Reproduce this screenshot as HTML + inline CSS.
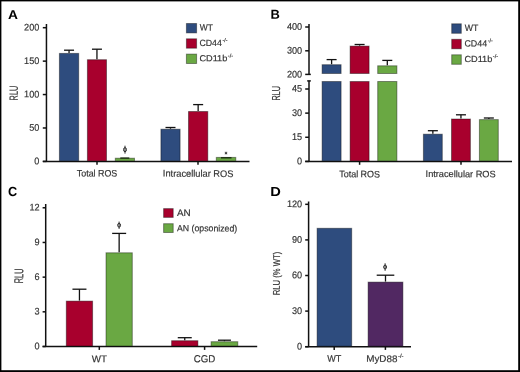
<!DOCTYPE html>
<html><head><meta charset="utf-8"><style>
html,body{margin:0;padding:0;background:#fff;}
svg{display:block;font-family:"Liberation Sans", sans-serif;filter:blur(0.35px);}
text{text-rendering:geometricPrecision;}
</style></head><body>
<svg width="520" height="372" viewBox="0 0 520 372">
<rect x="0" y="0" width="520" height="372" fill="#000"/>
<rect x="1.4" y="1.4" width="516.8" height="368.8" fill="#fff"/>
<text transform="translate(8.06,19) rotate(0.3) scale(1.077,1)" font-size="12.75" font-weight="bold" fill="#000" stroke="#000" stroke-width="0" stroke-linejoin="round">A</text>
<line x1="46.45" y1="24" x2="46.45" y2="161.4" stroke="#111" stroke-width="1.5"/>
<line x1="42.8" y1="161.4" x2="46.45" y2="161.4" stroke="#111" stroke-width="1.5"/>
<text transform="translate(34.22,164.2) rotate(0.3) scale(0.950,1)" font-size="9.57" font-weight="normal" fill="#333" stroke="#333" stroke-width="0.18" stroke-linejoin="round">0</text>
<line x1="42.8" y1="127.98" x2="46.45" y2="127.98" stroke="#111" stroke-width="1.5"/>
<text transform="translate(29.17,130.78) rotate(0.3) scale(0.950,1)" font-size="9.57" font-weight="normal" fill="#333" stroke="#333" stroke-width="0.18" stroke-linejoin="round">50</text>
<line x1="42.8" y1="94.55" x2="46.45" y2="94.55" stroke="#111" stroke-width="1.5"/>
<text transform="translate(24.12,97.35) rotate(0.3) scale(0.950,1)" font-size="9.57" font-weight="normal" fill="#333" stroke="#333" stroke-width="0.18" stroke-linejoin="round">100</text>
<line x1="42.8" y1="61.13" x2="46.45" y2="61.13" stroke="#111" stroke-width="1.5"/>
<text transform="translate(24.12,63.93) rotate(0.3) scale(0.950,1)" font-size="9.57" font-weight="normal" fill="#333" stroke="#333" stroke-width="0.18" stroke-linejoin="round">150</text>
<line x1="42.8" y1="27.7" x2="46.45" y2="27.7" stroke="#111" stroke-width="1.5"/>
<text transform="translate(24.12,30.5) rotate(0.3) scale(0.950,1)" font-size="9.57" font-weight="normal" fill="#333" stroke="#333" stroke-width="0.18" stroke-linejoin="round">200</text>
<line x1="42.8" y1="161.4" x2="249.5" y2="161.4" stroke="#111" stroke-width="1.5"/>
<line x1="97" y1="161.4" x2="97" y2="164.8" stroke="#111" stroke-width="1.5"/>
<line x1="198" y1="161.4" x2="198" y2="164.8" stroke="#111" stroke-width="1.5"/>
<rect x="59.4" y="53.4" width="19.3" height="107.5" fill="#2e4c7e" stroke="rgba(0,0,0,0.4)" stroke-width="1.0"/>
<line x1="69.05" y1="52.9" x2="69.05" y2="50.2" stroke="#111" stroke-width="1.3"/>
<line x1="64.05" y1="50.2" x2="74.05" y2="50.2" stroke="#111" stroke-width="1.3"/>
<rect x="87.4" y="59.7" width="19.1" height="101.2" fill="#a8002d" stroke="rgba(0,0,0,0.4)" stroke-width="1.0"/>
<line x1="96.95" y1="59.2" x2="96.95" y2="49.2" stroke="#111" stroke-width="1.3"/>
<line x1="91.95" y1="49.2" x2="101.95" y2="49.2" stroke="#111" stroke-width="1.3"/>
<rect x="115.3" y="158.2" width="19.2" height="2.7" fill="#6aa843" stroke="rgba(0,0,0,0.4)" stroke-width="1.0"/>
<line x1="120.3" y1="158.1" x2="129.3" y2="158.1" stroke="#1a2a10" stroke-width="1.4"/>
<rect x="160.9" y="129.2" width="19.2" height="31.7" fill="#2e4c7e" stroke="rgba(0,0,0,0.4)" stroke-width="1.0"/>
<line x1="170.5" y1="128.7" x2="170.5" y2="127.5" stroke="#111" stroke-width="1.3"/>
<line x1="165.5" y1="127.5" x2="175.5" y2="127.5" stroke="#111" stroke-width="1.3"/>
<rect x="188.5" y="111.5" width="19.3" height="49.4" fill="#a8002d" stroke="rgba(0,0,0,0.4)" stroke-width="1.0"/>
<line x1="198.15" y1="111" x2="198.15" y2="104.6" stroke="#111" stroke-width="1.3"/>
<line x1="193.15" y1="104.6" x2="203.15" y2="104.6" stroke="#111" stroke-width="1.3"/>
<rect x="216.3" y="157.4" width="19.5" height="3.5" fill="#6aa843" stroke="rgba(0,0,0,0.4)" stroke-width="1.0"/>
<line x1="221" y1="157.8" x2="231.5" y2="157.8" stroke="#1a2a10" stroke-width="1.4"/>
<line x1="125" y1="145.7" x2="125" y2="153.6" stroke="#2a2a2a" stroke-width="1.0"/>
<ellipse cx="125" cy="149.65" rx="1.45" ry="2.05" fill="none" stroke="#2a2a2a" stroke-width="1.0"/>
<line x1="226" y1="151.7" x2="226" y2="154.5" stroke="#333" stroke-width="0.85"/>
<line x1="224.79" y1="152.4" x2="227.21" y2="153.8" stroke="#333" stroke-width="0.85"/>
<line x1="224.79" y1="153.8" x2="227.21" y2="152.4" stroke="#333" stroke-width="0.85"/>
<rect x="186.4" y="23.5" width="10.2" height="9.4" fill="#2e4c7e" stroke="rgba(0,0,0,0.4)" stroke-width="1.0"/>
<text transform="translate(199.86,30.6) rotate(0.3) scale(0.909,1)" font-size="9.28" font-weight="normal" fill="#333" stroke="#333" stroke-width="0.18" stroke-linejoin="round">WT</text>
<rect x="186.4" y="38.8" width="10.2" height="9.4" fill="#a8002d" stroke="rgba(0,0,0,0.4)" stroke-width="1.0"/>
<text transform="translate(199.46,45.9) rotate(0.3) scale(0.959,1)" font-size="9.14" font-weight="normal" fill="#333" stroke="#333" stroke-width="0.18" stroke-linejoin="round">CD44<tspan font-size="5.49" dx="0.6" dy="-4.11">-/-</tspan></text>
<rect x="186.4" y="54.1" width="10.2" height="9.4" fill="#6aa843" stroke="rgba(0,0,0,0.4)" stroke-width="1.0"/>
<text transform="translate(199.44,61.2) rotate(0.3) scale(1.037,1)" font-size="8.83" font-weight="normal" fill="#333" stroke="#333" stroke-width="0.18" stroke-linejoin="round">CD11b<tspan font-size="5.3" dx="0.5" dy="-3.97">-/-</tspan></text>
<text transform="translate(76.82,176.4) rotate(0.3) scale(0.945,1)" font-size="9.38" font-weight="normal" fill="#333" stroke="#333" stroke-width="0.18" stroke-linejoin="round">Total ROS</text>
<text transform="translate(162.87,176.6) rotate(0.3) scale(0.974,1)" font-size="9.52" font-weight="normal" fill="#333" stroke="#333" stroke-width="0.18" stroke-linejoin="round">Intracellular ROS</text>
<text transform="translate(17.8,100.39) rotate(-89.7) scale(0.616,1)" font-size="11.88" font-weight="normal" fill="#333" stroke="#333" stroke-width="0.18" stroke-linejoin="round">RLU</text>
<text transform="translate(270.46,18.8) rotate(0.3) scale(0.993,1)" font-size="13.04" font-weight="bold" fill="#000" stroke="#000" stroke-width="0" stroke-linejoin="round">B</text>
<line x1="309" y1="24" x2="309" y2="74.4" stroke="#111" stroke-width="1.5"/>
<line x1="305.2" y1="74.4" x2="310.8" y2="74.4" stroke="#111" stroke-width="1.5"/>
<text transform="translate(286.92,77.4) rotate(0.3) scale(0.950,1)" font-size="9.57" font-weight="normal" fill="#333" stroke="#333" stroke-width="0.18" stroke-linejoin="round">200</text>
<line x1="305.2" y1="50.8" x2="309" y2="50.8" stroke="#111" stroke-width="1.5"/>
<text transform="translate(286.92,53.6) rotate(0.3) scale(0.950,1)" font-size="9.57" font-weight="normal" fill="#333" stroke="#333" stroke-width="0.18" stroke-linejoin="round">300</text>
<line x1="305.2" y1="27" x2="309" y2="27" stroke="#111" stroke-width="1.5"/>
<text transform="translate(286.92,29.8) rotate(0.3) scale(0.950,1)" font-size="9.57" font-weight="normal" fill="#333" stroke="#333" stroke-width="0.18" stroke-linejoin="round">400</text>
<line x1="309" y1="80.9" x2="309" y2="161.4" stroke="#111" stroke-width="1.5"/>
<line x1="307.2" y1="80.9" x2="310.8" y2="80.9" stroke="#111" stroke-width="1.5"/>
<line x1="305.2" y1="161.4" x2="309" y2="161.4" stroke="#111" stroke-width="1.5"/>
<text transform="translate(297.02,164.2) rotate(0.3) scale(0.950,1)" font-size="9.57" font-weight="normal" fill="#333" stroke="#333" stroke-width="0.18" stroke-linejoin="round">0</text>
<line x1="305.2" y1="137.27" x2="309" y2="137.27" stroke="#111" stroke-width="1.5"/>
<text transform="translate(291.97,140.07) rotate(0.3) scale(0.936,1)" font-size="9.71" font-weight="normal" fill="#333" stroke="#333" stroke-width="0.18" stroke-linejoin="round">15</text>
<line x1="305.2" y1="113.13" x2="309" y2="113.13" stroke="#111" stroke-width="1.5"/>
<text transform="translate(291.97,115.93) rotate(0.3) scale(0.950,1)" font-size="9.57" font-weight="normal" fill="#333" stroke="#333" stroke-width="0.18" stroke-linejoin="round">30</text>
<line x1="305.2" y1="89" x2="309" y2="89" stroke="#111" stroke-width="1.5"/>
<text transform="translate(291.97,91.8) rotate(0.3) scale(0.936,1)" font-size="9.71" font-weight="normal" fill="#333" stroke="#333" stroke-width="0.18" stroke-linejoin="round">45</text>
<line x1="305.2" y1="161.4" x2="512" y2="161.4" stroke="#111" stroke-width="1.5"/>
<line x1="359.6" y1="161.4" x2="359.6" y2="164.8" stroke="#111" stroke-width="1.5"/>
<line x1="461" y1="161.4" x2="461" y2="164.8" stroke="#111" stroke-width="1.5"/>
<rect x="322.1" y="64.7" width="19" height="8.8" fill="#2e4c7e" stroke="rgba(0,0,0,0.4)" stroke-width="1.0"/>
<rect x="322.1" y="81.5" width="19" height="79.4" fill="#2e4c7e" stroke="rgba(0,0,0,0.4)" stroke-width="1.0"/>
<line x1="331.6" y1="64.2" x2="331.6" y2="59.6" stroke="#111" stroke-width="1.3"/>
<line x1="326.6" y1="59.6" x2="336.6" y2="59.6" stroke="#111" stroke-width="1.3"/>
<rect x="350.1" y="46.1" width="19" height="27.4" fill="#a8002d" stroke="rgba(0,0,0,0.4)" stroke-width="1.0"/>
<rect x="350.1" y="81.5" width="19" height="79.4" fill="#a8002d" stroke="rgba(0,0,0,0.4)" stroke-width="1.0"/>
<line x1="359.6" y1="45.6" x2="359.6" y2="44.5" stroke="#111" stroke-width="1.3"/>
<line x1="354.6" y1="44.5" x2="364.6" y2="44.5" stroke="#111" stroke-width="1.3"/>
<rect x="377.7" y="65.8" width="19.2" height="7.7" fill="#6aa843" stroke="rgba(0,0,0,0.4)" stroke-width="1.0"/>
<rect x="377.7" y="81.5" width="19.2" height="79.4" fill="#6aa843" stroke="rgba(0,0,0,0.4)" stroke-width="1.0"/>
<line x1="387.3" y1="65.3" x2="387.3" y2="60.4" stroke="#111" stroke-width="1.3"/>
<line x1="382.3" y1="60.4" x2="392.3" y2="60.4" stroke="#111" stroke-width="1.3"/>
<rect x="423.4" y="134.2" width="18.9" height="26.7" fill="#2e4c7e" stroke="rgba(0,0,0,0.4)" stroke-width="1.0"/>
<line x1="432.85" y1="133.7" x2="432.85" y2="130.7" stroke="#111" stroke-width="1.3"/>
<line x1="427.85" y1="130.7" x2="437.85" y2="130.7" stroke="#111" stroke-width="1.3"/>
<rect x="451.5" y="119" width="18.9" height="41.9" fill="#a8002d" stroke="rgba(0,0,0,0.4)" stroke-width="1.0"/>
<line x1="460.95" y1="118.5" x2="460.95" y2="114.8" stroke="#111" stroke-width="1.3"/>
<line x1="455.95" y1="114.8" x2="465.95" y2="114.8" stroke="#111" stroke-width="1.3"/>
<rect x="479.4" y="119.6" width="18.9" height="41.3" fill="#6aa843" stroke="rgba(0,0,0,0.4)" stroke-width="1.0"/>
<line x1="488.85" y1="119.1" x2="488.85" y2="118" stroke="#111" stroke-width="1.3"/>
<line x1="483.85" y1="118" x2="493.85" y2="118" stroke="#111" stroke-width="1.3"/>
<rect x="451.7" y="23.8" width="9.6" height="9.5" fill="#2e4c7e" stroke="rgba(0,0,0,0.4)" stroke-width="1.0"/>
<text transform="translate(464.86,30.9) rotate(0.3) scale(0.937,1)" font-size="9.28" font-weight="normal" fill="#333" stroke="#333" stroke-width="0.18" stroke-linejoin="round">WT</text>
<rect x="451.7" y="39.3" width="9.6" height="9.5" fill="#a8002d" stroke="rgba(0,0,0,0.4)" stroke-width="1.0"/>
<text transform="translate(464.46,46.4) rotate(0.3) scale(0.968,1)" font-size="9.14" font-weight="normal" fill="#333" stroke="#333" stroke-width="0.18" stroke-linejoin="round">CD44<tspan font-size="5.49" dx="0.6" dy="-4.11">-/-</tspan></text>
<rect x="451.7" y="54.8" width="9.6" height="9.5" fill="#6aa843" stroke="rgba(0,0,0,0.4)" stroke-width="1.0"/>
<text transform="translate(464.44,61.9) rotate(0.3) scale(1.037,1)" font-size="8.83" font-weight="normal" fill="#333" stroke="#333" stroke-width="0.18" stroke-linejoin="round">CD11b<tspan font-size="5.3" dx="0.5" dy="-3.97">-/-</tspan></text>
<text transform="translate(339.22,177.2) rotate(0.3) scale(0.955,1)" font-size="9.38" font-weight="normal" fill="#333" stroke="#333" stroke-width="0.18" stroke-linejoin="round">Total ROS</text>
<text transform="translate(425.57,177) rotate(0.3) scale(0.981,1)" font-size="9.38" font-weight="normal" fill="#333" stroke="#333" stroke-width="0.18" stroke-linejoin="round">Intracellular ROS</text>
<text transform="translate(279.9,100.48) rotate(-89.7) scale(0.626,1)" font-size="11.59" font-weight="normal" fill="#333" stroke="#333" stroke-width="0.18" stroke-linejoin="round">RLU</text>
<text transform="translate(8.09,196.1) rotate(0.3) scale(0.964,1)" font-size="13.14" font-weight="bold" fill="#000" stroke="#000" stroke-width="0" stroke-linejoin="round">C</text>
<line x1="45.7" y1="204" x2="45.7" y2="346.5" stroke="#111" stroke-width="1.5"/>
<line x1="42.6" y1="346.5" x2="45.7" y2="346.5" stroke="#111" stroke-width="1.5"/>
<text transform="translate(34.42,349.3) rotate(0.3) scale(0.950,1)" font-size="9.57" font-weight="normal" fill="#333" stroke="#333" stroke-width="0.18" stroke-linejoin="round">0</text>
<line x1="42.6" y1="311.82" x2="45.7" y2="311.82" stroke="#111" stroke-width="1.5"/>
<text transform="translate(34.46,314.62) rotate(0.3) scale(0.950,1)" font-size="9.57" font-weight="normal" fill="#333" stroke="#333" stroke-width="0.18" stroke-linejoin="round">3</text>
<line x1="42.6" y1="277.14" x2="45.7" y2="277.14" stroke="#111" stroke-width="1.5"/>
<text transform="translate(34.46,279.94) rotate(0.3) scale(0.950,1)" font-size="9.57" font-weight="normal" fill="#333" stroke="#333" stroke-width="0.18" stroke-linejoin="round">6</text>
<line x1="42.6" y1="242.46" x2="45.7" y2="242.46" stroke="#111" stroke-width="1.5"/>
<text transform="translate(34.46,245.26) rotate(0.3) scale(0.950,1)" font-size="9.57" font-weight="normal" fill="#333" stroke="#333" stroke-width="0.18" stroke-linejoin="round">9</text>
<line x1="42.6" y1="207.78" x2="45.7" y2="207.78" stroke="#111" stroke-width="1.5"/>
<text transform="translate(29.46,210.58) rotate(0.3) scale(0.950,1)" font-size="9.57" font-weight="normal" fill="#333" stroke="#333" stroke-width="0.18" stroke-linejoin="round">12</text>
<line x1="42.6" y1="346.5" x2="257.2" y2="346.5" stroke="#111" stroke-width="1.5"/>
<line x1="99.3" y1="346.5" x2="99.3" y2="349.9" stroke="#111" stroke-width="1.5"/>
<line x1="204.6" y1="346.5" x2="204.6" y2="349.9" stroke="#111" stroke-width="1.5"/>
<rect x="66.3" y="301.1" width="26.3" height="44.9" fill="#a8002d" stroke="rgba(0,0,0,0.4)" stroke-width="1.0"/>
<line x1="79.45" y1="300.6" x2="79.45" y2="289.2" stroke="#111" stroke-width="1.3"/>
<line x1="72.45" y1="289.2" x2="86.45" y2="289.2" stroke="#111" stroke-width="1.3"/>
<rect x="106" y="252.8" width="26.3" height="93.2" fill="#6aa843" stroke="rgba(0,0,0,0.4)" stroke-width="1.0"/>
<line x1="119.15" y1="252.3" x2="119.15" y2="233.4" stroke="#111" stroke-width="1.3"/>
<line x1="112.15" y1="233.4" x2="126.15" y2="233.4" stroke="#111" stroke-width="1.3"/>
<rect x="171.6" y="340.7" width="26.3" height="5.3" fill="#a8002d" stroke="rgba(0,0,0,0.4)" stroke-width="1.0"/>
<line x1="184.75" y1="340.2" x2="184.75" y2="337.7" stroke="#111" stroke-width="1.3"/>
<line x1="177.75" y1="337.7" x2="191.75" y2="337.7" stroke="#111" stroke-width="1.3"/>
<rect x="211.1" y="341.7" width="26.7" height="4.3" fill="#6aa843" stroke="rgba(0,0,0,0.4)" stroke-width="1.0"/>
<line x1="224.45" y1="341.2" x2="224.45" y2="340.2" stroke="#111" stroke-width="1.3"/>
<line x1="217.95" y1="340.2" x2="230.95" y2="340.2" stroke="#111" stroke-width="1.3"/>
<line x1="119.1" y1="221.6" x2="119.1" y2="228.9" stroke="#2a2a2a" stroke-width="1.0"/>
<ellipse cx="119.1" cy="225.25" rx="1.45" ry="1.9" fill="none" stroke="#2a2a2a" stroke-width="1.0"/>
<rect x="163.6" y="208.6" width="9.6" height="8.8" fill="#a8002d" stroke="rgba(0,0,0,0.4)" stroke-width="1.0"/>
<rect x="163.6" y="223.7" width="9.6" height="8.8" fill="#6aa843" stroke="rgba(0,0,0,0.4)" stroke-width="1.0"/>
<text transform="translate(176.95,215.9) rotate(0.3) scale(1.045,1)" font-size="9.42" font-weight="normal" fill="#333" stroke="#333" stroke-width="0.18" stroke-linejoin="round">AN</text>
<text transform="translate(176.96,231.2) rotate(0.3) scale(0.961,1)" font-size="9.10" font-weight="normal" fill="#333" stroke="#333" stroke-width="0.18" stroke-linejoin="round">AN (opsonized)</text>
<text transform="translate(91.75,362.3) rotate(0.3) scale(0.995,1)" font-size="9.86" font-weight="normal" fill="#333" stroke="#333" stroke-width="0.18" stroke-linejoin="round">WT</text>
<text transform="translate(193.72,362.2) rotate(0.3) scale(0.942,1)" font-size="10.29" font-weight="normal" fill="#333" stroke="#333" stroke-width="0.18" stroke-linejoin="round">CGD</text>
<text transform="translate(23.1,283.29) rotate(-89.7) scale(0.585,1)" font-size="12.61" font-weight="normal" fill="#333" stroke="#333" stroke-width="0.18" stroke-linejoin="round">RLU</text>
<text transform="translate(270.35,196.1) rotate(0.3) scale(1.122,1)" font-size="13.04" font-weight="bold" fill="#000" stroke="#000" stroke-width="0" stroke-linejoin="round">D</text>
<line x1="308.6" y1="201.5" x2="308.6" y2="346.7" stroke="#111" stroke-width="1.5"/>
<line x1="305.2" y1="346.7" x2="308.6" y2="346.7" stroke="#111" stroke-width="1.5"/>
<text transform="translate(297.02,349.5) rotate(0.3) scale(0.950,1)" font-size="9.57" font-weight="normal" fill="#333" stroke="#333" stroke-width="0.18" stroke-linejoin="round">0</text>
<line x1="305.2" y1="311.1" x2="308.6" y2="311.1" stroke="#111" stroke-width="1.5"/>
<text transform="translate(291.97,313.9) rotate(0.3) scale(0.950,1)" font-size="9.57" font-weight="normal" fill="#333" stroke="#333" stroke-width="0.18" stroke-linejoin="round">30</text>
<line x1="305.2" y1="275.51" x2="308.6" y2="275.51" stroke="#111" stroke-width="1.5"/>
<text transform="translate(291.97,278.31) rotate(0.3) scale(0.950,1)" font-size="9.57" font-weight="normal" fill="#333" stroke="#333" stroke-width="0.18" stroke-linejoin="round">60</text>
<line x1="305.2" y1="239.91" x2="308.6" y2="239.91" stroke="#111" stroke-width="1.5"/>
<text transform="translate(291.97,242.71) rotate(0.3) scale(0.950,1)" font-size="9.57" font-weight="normal" fill="#333" stroke="#333" stroke-width="0.18" stroke-linejoin="round">90</text>
<line x1="305.2" y1="204.32" x2="308.6" y2="204.32" stroke="#111" stroke-width="1.5"/>
<text transform="translate(286.92,207.12) rotate(0.3) scale(0.950,1)" font-size="9.57" font-weight="normal" fill="#333" stroke="#333" stroke-width="0.18" stroke-linejoin="round">120</text>
<line x1="305.2" y1="346.7" x2="411" y2="346.7" stroke="#111" stroke-width="1.5"/>
<line x1="334.2" y1="346.7" x2="334.2" y2="349.9" stroke="#111" stroke-width="1.5"/>
<line x1="385.4" y1="346.7" x2="385.4" y2="349.9" stroke="#111" stroke-width="1.5"/>
<rect x="317.1" y="228.3" width="34.6" height="117.9" fill="#2e4c7e" stroke="rgba(0,0,0,0.4)" stroke-width="1.0"/>
<rect x="368.1" y="282.1" width="34.8" height="64.1" fill="#512862" stroke="rgba(0,0,0,0.4)" stroke-width="1.0"/>
<line x1="385.5" y1="281.6" x2="385.5" y2="275.2" stroke="#111" stroke-width="1.3"/>
<line x1="376.7" y1="275.2" x2="394.3" y2="275.2" stroke="#111" stroke-width="1.3"/>
<line x1="385.1" y1="263.3" x2="385.1" y2="270.8" stroke="#2a2a2a" stroke-width="1.0"/>
<ellipse cx="385.1" cy="267.05" rx="1.45" ry="1.95" fill="none" stroke="#2a2a2a" stroke-width="1.0"/>
<text transform="translate(327.15,361.8) rotate(0.3) scale(0.943,1)" font-size="9.57" font-weight="normal" fill="#333" stroke="#333" stroke-width="0.18" stroke-linejoin="round">WT</text>
<text transform="translate(366.21,361.8) rotate(0.3) scale(1.045,1)" font-size="9.43" font-weight="normal" fill="#333" stroke="#333" stroke-width="0.18" stroke-linejoin="round">MyD88<tspan font-size="5.66" dx="0.5" dy="-4.24">-/-</tspan></text>
<text transform="translate(279.8,295.21) rotate(-89.7) scale(0.784,1)" font-size="9.79" font-weight="normal" fill="#333" stroke="#333" stroke-width="0.18" stroke-linejoin="round">RLU (% WT)</text>
</svg>
</body></html>
